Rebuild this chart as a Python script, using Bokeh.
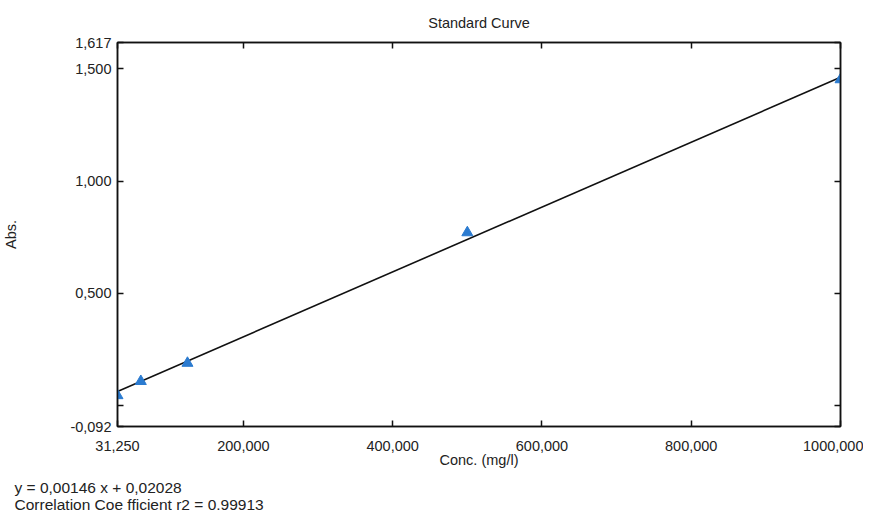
from bokeh.plotting import figure
from bokeh.models import FixedTicker, CustomJSTickFormatter, LinearAxis, Range1d, Title
from bokeh.embed import file_html
from bokeh.resources import INLINE

# ---- data ----
conc = [31.25, 62.5, 125.0, 500.0, 1000.0]
absorb = [0.046, 0.109, 0.190, 0.771, 1.452]
fit_x = [31.25, 1000.0]
fit_y = [0.064, 1.462]
x_ticks = [31.25, 200, 400, 600, 800, 1000]
y_ticks = [-0.092, 0.0, 0.5, 1.0, 1.5, 1.617]
x_min, x_max = 31.25, 1000.0
y_min, y_max = -0.092, 1.617
title_text = "Standard Curve"
x_label = "Conc. (mg/l)"
y_label = "Abs."
eq_text = "y = 0,00146 x + 0,02028"
r2_text = "Correlation Coe fficient r2 = 0.99913"

FONT = "Liberation Sans"
FS = "14.5px"
TXT = "#222222"

p = figure(
    width=863, height=518,
    x_range=Range1d(x_min, x_max), y_range=Range1d(y_min, y_max),
    output_backend="svg", toolbar_location=None,
    min_border_left=110, min_border_right=23, min_border_top=42, min_border_bottom=86,
    x_axis_label=x_label, y_axis_label=y_label,
)
p.background_fill_color = "white"
p.border_fill_color = "white"
p.outline_line_color = "#111111"
p.outline_line_width = 1.5
p.xgrid.visible = False
p.ygrid.visible = False

fmt = CustomJSTickFormatter(code="""
if (Math.abs(tick) < 1e-9) { return ''; }
return tick.toFixed(3).replace('.', ',');
""")
blank = CustomJSTickFormatter(code="return '';")

def style_axis(ax, ticks, formatter):
    ax.ticker = FixedTicker(ticks=ticks)
    ax.formatter = formatter
    ax.minor_tick_line_color = None
    ax.major_tick_in = 6
    ax.major_tick_out = 0
    ax.major_tick_line_color = "#111111"
    ax.major_tick_line_width = 1.5
    ax.axis_line_color = "#111111"
    ax.axis_line_width = 1.5
    ax.major_label_text_font = FONT
    ax.major_label_text_font_size = FS
    ax.major_label_text_color = TXT
    ax.axis_label_text_font = FONT
    ax.axis_label_text_font_size = FS
    ax.axis_label_text_font_style = "normal"
    ax.axis_label_text_color = TXT

xa = p.xaxis[0]
style_axis(xa, x_ticks, fmt)
xa.major_label_standoff = 14
xa.axis_label_standoff = -2

ya = p.yaxis[0]
style_axis(ya, y_ticks, fmt)
ya.major_label_standoff = 6
ya.axis_label_standoff = 48

ra = LinearAxis()
style_axis(ra, y_ticks, blank)
ra.major_label_standoff = 0
ra.axis_label_standoff = 0
p.add_layout(ra, "right")

ta = LinearAxis()
style_axis(ta, x_ticks, blank)
ta.major_label_standoff = 0
ta.axis_label_standoff = 0
p.add_layout(ta, "above")

p.line(fit_x, fit_y, line_color="#111111", line_width=1.6)
p.scatter(conc, absorb, marker="triangle", size=11, fill_color="#2b7bd0", line_color="#2b7bd0")

t0 = Title(text=title_text, align="center", text_font=FONT, text_font_size=FS,
           text_font_style="normal", text_color=TXT, standoff=23)
p.add_layout(t0, "above")

tb = Title(text=eq_text + "\n" + r2_text, align="left", offset=-103, standoff=12,
           text_font=FONT, text_font_size="15.5px", text_font_style="normal",
           text_color=TXT, text_line_height=1.0)
p.add_layout(tb, "below")

open("out.html", "w").write(file_html(p, INLINE))
